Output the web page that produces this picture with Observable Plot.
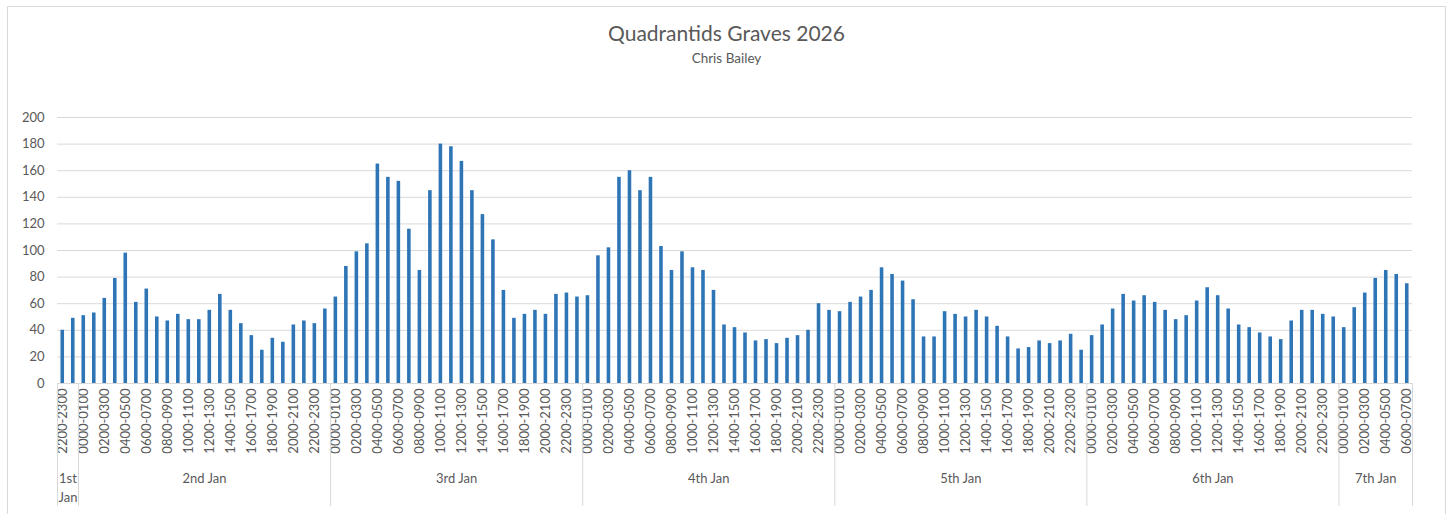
<!DOCTYPE html>
<html><head><meta charset="utf-8">
<script src="https://cdn.jsdelivr.net/npm/d3@7"></script>
<script src="https://cdn.jsdelivr.net/npm/@observablehq/plot@0.6"></script>
<style>
html,body{margin:0;padding:0;background:#fff;}
#frame{position:absolute;left:7px;top:6px;width:1439px;height:530px;border:1px solid #d9d9d9;box-sizing:border-box;pointer-events:none;}
#wrap{position:absolute;left:0;top:0;width:1453px;font-family:Lato,"Open Sans",sans-serif;color:#595959;}
#title{height:24px;line-height:24px;padding-top:21px;font-size:21px;text-align:center;}
#subtitle{height:16px;line-height:16px;margin-top:5px;font-size:13.5px;text-align:center;}
#chart{margin-top:14px;}
svg{display:block;}
</style></head>
<body>
<div id="frame"></div>
<div id="wrap">
<div id="title">Quadrantids Graves 2026</div>
<div id="subtitle">Chris Bailey</div>
<div id="chart"></div>
</div>
<script>
const hourLabels = ["0000-0100","0100-0200","0200-0300","0300-0400","0400-0500","0500-0600",
  "0600-0700","0700-0800","0800-0900","0900-1000","1000-1100","1100-1200",
  "1200-1300","1300-1400","1400-1500","1500-1600","1600-1700","1700-1800",
  "1800-1900","1900-2000","2000-2100","2100-2200","2200-2300","2300-0000"];
const dayNames = ["1st Jan","2nd Jan","3rd Jan","4th Jan","5th Jan","6th Jan","7th Jan"];
const dayStartHour = [22,0,0,0,0,0,0];
const jan1 = [40,49];
const jan2 = [51,53,64,79,98,61,71,50,47,52,48,48,55,67,55,45,36,25,34,31,44,47,45,56];
const jan3 = [65,88,99,105,165,155,152,116,85,145,180,178,167,145,127,108,70,49,52,55,52,67,68,65];
const jan4 = [66,96,102,155,160,145,155,103,85,99,87,85,70,44,42,38,32,33,30,34,36,40,60,55];
const jan5 = [54,61,65,70,87,82,77,63,35,35,54,52,50,55,50,43,35,26,27,32,30,32,37,25];
const jan6 = [36,44,56,67,62,66,61,55,48,51,62,72,66,56,44,42,38,35,33,47,55,55,52,50];
const jan7 = [42,57,68,79,85,82,75];
const yTicks = [0,20,40,60,80,100,120,140,160,180,200];

const dayValues = [jan1,jan2,jan3,jan4,jan5,jan6,jan7];
const table = [];
const groups = [];
dayValues.forEach((vals, di) => {
  const start = table.length;
  vals.forEach((v, k) => table.push({i: table.length, day: dayNames[di], slot: hourLabels[dayStartHour[di] + k], count: v}));
  groups.push({name: dayNames[di], start, end: table.length});
});
const n = table.length;
const bounds = [0, ...groups.map(g => g.end)];
const labelTicks = table.filter(d => d.i % 2 === 0).map(d => d.i + 0.5);

const grey = "#595959";
const chart = Plot.plot({
  width: 1453,
  height: 434,
  marginLeft: 57,
  marginRight: 41,
  marginTop: 37,
  marginBottom: 131,
  style: {fontFamily: "Lato, 'Open Sans', sans-serif", color: grey, background: "transparent"},
  x: {type: "linear", domain: [0, n], axis: null, label: null},
  y: {domain: [0, 200], axis: null, label: null},
  marks: [
    Plot.gridY(yTicks, {stroke: "#d9d9d9", strokeOpacity: 1}),
    Plot.ruleY([0], {stroke: "#d9d9d9"}),
    Plot.rectY(table, {x1: d => d.i + 0.33, x2: d => d.i + 0.67, y: "count", fill: "#2e75b6"}),
    Plot.axisY({ticks: yTicks, tickSize: 0, tickPadding: 13, fontSize: 13, fill: grey, label: null}),
    Plot.axisX({ticks: labelTicks, tickFormat: t => table[Math.floor(t)].slot, tickRotate: -90,
      tickSize: 0, tickPadding: 5, fontSize: 13, fill: grey, label: null}),
    Plot.ruleX(bounds, {x: d => d, insetTop: 266, insetBottom: -123, stroke: "#d9d9d9"}),
    Plot.text(groups, {x: d => (d.start + d.end) / 2,
      text: d => (d.end - d.start) < 4 ? d.name.replace(" ", "\n") : d.name,
      frameAnchor: "bottom", dy: 86, lineAnchor: "top", lineHeight: 1.45, fontSize: 13, fill: grey})
  ]
});
document.getElementById("chart").appendChild(chart);
</script>
</body></html>
